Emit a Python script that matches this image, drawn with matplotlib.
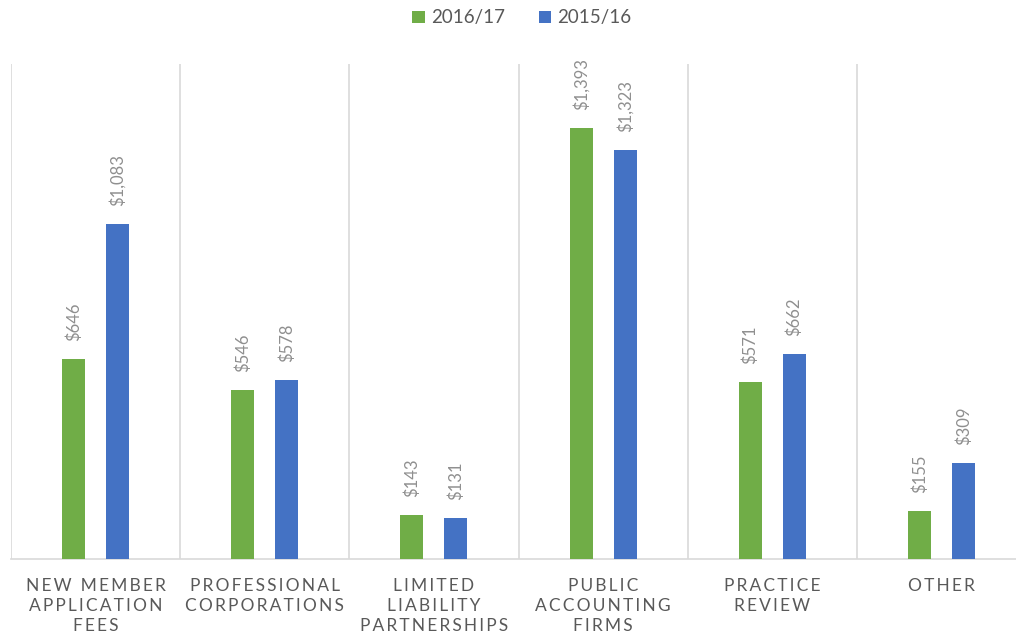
import matplotlib.pyplot as plt
import numpy as np

# 数据
categories = ["NEW MEMBER\nAPPLICATION\nFEES", "PROFESSIONAL\nCORPORATIONS",
              "LIMITED\nLIABILITY\nPARTNERSHIPS", "PUBLIC\nACCOUNTING\nFIRMS",
              "PRACTICE\nREVIEW", "OTHER"]
series_names = ["2016/17", "2015/16"]
values_1617 = [646, 546, 143, 1393, 571, 155]
values_1516 = [1083, 578, 131, 1323, 662, 309]

colors = ["#70AD47", "#4472C4"]

plt.rcParams['font.family'] = ['Lato', 'DejaVu Sans']


def spaced(text):
    # 模拟字母间距
    lines = []
    for line in text.split("\n"):
        words = ["\u2009".join(w) for w in line.split(" ")]
        lines.append("  ".join(words))
    return "\n".join(lines)


W, H = 1016, 636
fig = plt.figure(figsize=(W / 100, H / 100), dpi=100)
ax = fig.add_axes([11 / W, (H - 559) / H, 1015 / W, 495 / H])

x = np.arange(len(categories))
bw = 0.136
off = 0.13
bars1 = ax.bar(x - off, values_1617, bw, color=colors[0], label=series_names[0], zorder=3)
bars2 = ax.bar(x + off, values_1516, bw, color=colors[1], label=series_names[1], zorder=3)

for bars, vals in [(bars1, values_1617), (bars2, values_1516)]:
    for b, v in zip(bars, vals):
        ax.annotate(f"${v:,}", (b.get_x() + b.get_width() / 2, v),
                    xytext=(0, 13), textcoords='offset points',
                    rotation=90, ha='center', va='bottom',
                    fontsize=12, color='#8f8f8f')

ax.set_xlim(-0.5, len(categories) - 0.5)
ax.set_ylim(0, 1600)
ax.vlines(np.arange(len(categories)) - 0.5, 0, 1600, color='#d9d9d9', lw=1.2, zorder=1)

for s in ['top', 'right', 'left']:
    ax.spines[s].set_visible(False)
ax.spines['bottom'].set_color('#d9d9d9')
ax.spines['bottom'].set_linewidth(1.2)
ax.set_yticks([])
ax.set_xticks(x)
ax.set_xticklabels([spaced(c) for c in categories], fontsize=12.5, color='#595959',
                   linespacing=1.3)
ax.tick_params(axis='x', length=0, pad=14)

fig.legend(handles=[bars1, bars2], labels=series_names, loc='center',
           bbox_to_anchor=(522 / W, 1 - 18 / H), ncol=2, frameon=False,
           fontsize=13.5, labelcolor='#595959', handlelength=0.65, handleheight=0.65,
           handletextpad=0.35, columnspacing=1.8)

fig.savefig('out.png', dpi=100)
